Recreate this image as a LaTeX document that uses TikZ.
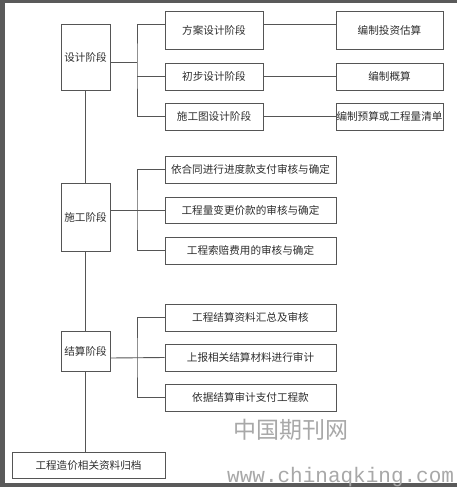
\documentclass[tikz,border=0pt]{standalone}
\usepackage{fontspec}
\usepackage{tikz}
\usetikzlibrary{positioning,calc}
\newfontfamily\cjk{Noto Sans CJK SC}
\newfontfamily\wmmono{Liberation Mono}
\definecolor{framegray}{HTML}{5A5A5A}
\definecolor{linegray}{HTML}{555555}
\definecolor{textgray}{HTML}{2E2E2E}
\definecolor{markgray}{HTML}{A8A8A8}

\begin{document}
\begin{tikzpicture}[
  x=1pt, y=-1pt,
  stage/.style={rectangle, draw=linegray, line width=0.9pt, text=textgray, minimum width=49pt, inner sep=0pt, font=\cjk\fontsize{10.6}{12}\selectfont},
  task/.style={rectangle, draw=linegray, line width=0.9pt, text=textgray, minimum height=27pt, inner xsep=0pt, font=\cjk\fontsize{10.6}{12}\selectfont},
  link/.style={draw=linegray, line width=0.9pt}
]

% frame
\fill[framegray] (0,0) rectangle (457,487);
\fill[white] (5,3) rectangle (457,483);
\useasboundingbox (0,0) rectangle (457,487);

% Stages
\node[stage, minimum height=66pt] (design) at (85.5,57) {设计阶段};
\node[stage, minimum height=68pt] (build) at (85.5,217) {施工阶段};
\node[stage, minimum height=40pt] (settle) at (85.5,351) {结算阶段};
\node[task, minimum width=153pt, minimum height=26pt] (archive) at (88.5,465) {工程造价相关资料归档};

% Design tasks
\node[task, minimum width=98pt, minimum height=38pt] (scheme) at (214,30) {方案设计阶段};
\node[task, minimum width=98pt] (prelim) at (214,76.5) {初步设计阶段};
\node[task, minimum width=98pt] (drawing) at (214,116.5) {施工图设计阶段};
\node[task, minimum width=107pt, minimum height=38pt] (estimate) at (389.5,30) {编制投资估算};
\node[task, minimum width=107pt] (budget) at (389.5,76.5) {编制概算};
\node[task, minimum width=107pt] (bill) at (389.5,116.5) {编制预算或工程量清单};

% Build tasks
\node[task, minimum width=171pt] (progress) at (250.5,169.5) {依合同进行进度款支付审核与确定};
\node[task, minimum width=171pt, minimum height=26pt] (change) at (250.5,210) {工程量变更价款的审核与确定};
\node[task, minimum width=171pt] (claim) at (250.5,250.5) {工程索赔费用的审核与确定};

% Settle tasks
\node[task, minimum width=171pt] (collect) at (250.5,317.5) {工程结算资料汇总及审核};
\node[task, minimum width=171pt] (audit) at (250.5,357.5) {上报相关结算材料进行审计};
\node[task, minimum width=171pt] (pay) at (250.5,397.5) {依据结算审计支付工程款};

% forks
\coordinate (dfork) at (137,62);
\coordinate (bfork) at (137,210);
\coordinate (sfork) at (137,358);

% main line
\draw[link] (design) -- (build);
\draw[link] (build) -- (settle);
\draw[link] (settle.south) -- (settle.south |- archive.north);

% design branches
\draw[link] (design.east |- dfork) -- (dfork);
\draw[link] ([yshift=6pt]scheme.west) -| (dfork) |- (drawing.west);
\draw[link] (dfork |- prelim.west) -- (prelim.west);
\draw[link] ([yshift=6pt]scheme.east) -- ([yshift=6pt]estimate.west);
\draw[link] (prelim) -- (budget);
\draw[link] (drawing) -- (bill);

% build branches
\draw[link] (build.east |- bfork) -- (change.west);
\draw[link] (progress.west) -| (bfork) |- (claim.west);

% settle branches
\draw[link] (settle.east |- sfork) -- (audit.west);
\draw[link] (collect.west) -| (sfork) |- (pay.west);

% watermark
\node[text=markgray, font=\cjk\fontsize{23}{26}\selectfont, inner sep=0pt] (wmcn) at (291,430) {中国期刊网};
\node[text=markgray, font=\wmmono\fontsize{21}{24}\selectfont, inner sep=0pt, anchor=base west] (wmurl) at (227,482) {www.chinaqking.com};

\end{tikzpicture}
\end{document}
